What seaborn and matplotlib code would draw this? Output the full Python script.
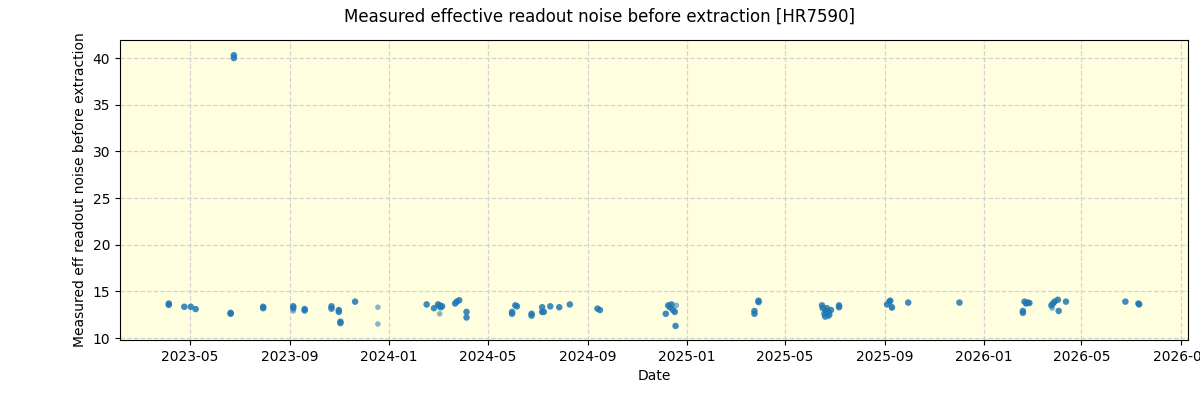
import matplotlib
matplotlib.use("Agg")
import matplotlib.pyplot as plt
import matplotlib.dates as mdates
import pandas as pd
import seaborn as sns

sns.set_style("ticks")
plt.rcParams.update({"text.color": "black", "axes.labelcolor": "black",
                     "xtick.color": "black", "ytick.color": "black"})

# observation dates and measured noise values
dates = [
    "2023-04-05", "2023-04-05", "2023-04-24", "2023-05-02", "2023-05-08",
    "2023-06-20", "2023-06-20", "2023-06-24", "2023-06-24",
    "2023-07-30", "2023-07-30", "2023-09-05", "2023-09-05", "2023-09-19", "2023-09-19",
    "2023-10-22", "2023-10-22", "2023-10-31", "2023-10-31", "2023-11-02", "2023-11-02",
    "2023-11-20",
    "2024-02-16", "2024-02-25", "2024-03-01", "2024-03-03", "2024-03-06", "2024-03-04",
    "2024-03-22", "2024-03-24", "2024-03-27", "2024-04-05", "2024-04-05",
    "2024-05-31", "2024-05-31", "2024-06-04", "2024-06-06", "2024-06-24", "2024-06-24",
    "2024-07-07", "2024-07-07", "2024-07-09", "2024-07-17", "2024-07-28", "2024-08-10",
    "2024-09-13", "2024-09-16",
    "2024-12-06", "2024-12-09", "2024-12-11", "2024-12-15", "2024-12-17", "2024-12-13",
    "2024-12-18",
    "2025-03-25", "2025-03-25", "2025-03-30", "2025-03-30",
    "2025-06-16", "2025-06-17", "2025-06-19", "2025-06-21", "2025-06-22", "2025-06-24",
    "2025-06-27", "2025-06-20", "2025-06-25", "2025-07-07", "2025-07-07",
    "2025-09-04", "2025-09-07", "2025-09-08", "2025-09-10", "2025-09-30", "2025-12-02",
    "2026-02-18", "2026-02-18", "2026-02-20", "2026-02-22", "2026-02-24", "2026-02-26",
    "2026-03-25", "2026-03-27", "2026-03-29", "2026-04-02", "2026-04-03", "2026-04-12",
    "2026-06-24", "2026-07-10", "2026-07-11",
]
noise = [
    13.7, 13.55, 13.35, 13.35, 13.1,
    12.7, 12.6, 40.3, 40.0,
    13.35, 13.2, 13.4, 13.2, 13.1, 12.95,
    13.4, 13.15, 13.0, 12.8, 11.75, 11.6,
    13.9,
    13.6, 13.2, 13.6, 13.5, 13.4, 13.3,
    13.7, 13.9, 14.05, 12.8, 12.2,
    12.8, 12.6, 13.5, 13.4, 12.6, 12.4,
    13.3, 12.8, 12.8, 13.4, 13.3, 13.6,
    13.15, 13.0,
    12.6, 13.5, 13.3, 13.0, 12.8, 13.6,
    11.3,
    12.9, 12.6, 14.0, 13.85,
    13.5, 13.2, 12.6, 12.9, 13.2, 12.8,
    13.0, 12.3, 12.5, 13.5, 13.3,
    13.6, 13.9, 14.0, 13.3, 13.8, 13.8,
    12.9, 12.7, 13.9, 13.7, 13.8, 13.75,
    13.5, 13.7, 13.9, 14.1, 12.9, 13.9,
    13.9, 13.7, 13.6,
]

# a few fainter measurements
faint_dates = ["2023-09-05", "2023-12-18", "2023-12-18", "2024-03-03", "2024-12-19",
               "2025-06-24", "2025-09-10", "2026-03-26"]
faint_noise = [12.9, 13.3, 11.5, 12.6, 13.5, 12.3, 13.2, 13.2]

df = pd.DataFrame({"date": pd.to_datetime(dates), "noise": noise})
df_faint = pd.DataFrame({"date": pd.to_datetime(faint_dates), "noise": faint_noise})

fig, ax = plt.subplots(figsize=(12, 4), dpi=100)
fig.subplots_adjust(left=0.1, right=0.99, top=0.9, bottom=0.15)
ax.set_facecolor("lightyellow")

sns.scatterplot(data=df_faint, x="date", y="noise", ax=ax, color="#1f77b4",
                s=16, alpha=0.55, edgecolor="none", zorder=3)
sns.scatterplot(data=df, x="date", y="noise", ax=ax, color="#1f77b4",
                s=22, alpha=0.85, edgecolor="none", zorder=3)

ax.grid(True, linestyle="--", color="lightgray", linewidth=0.9, zorder=0)
ax.set_axisbelow(True)
ax.set_ylim(9.79, 41.93)
ax.set_xlim(pd.Timestamp("2023-02-04"), pd.Timestamp("2026-09-09"))
ax.set_yticks([10, 15, 20, 25, 30, 35, 40])
ax.xaxis.set_major_locator(mdates.MonthLocator(bymonth=[1, 5, 9]))
ax.xaxis.set_major_formatter(mdates.DateFormatter("%Y-%m"))
for s in ax.spines.values():
    s.set_visible(True)
    s.set_color("black")

ax.set_xlabel("Date")
ax.set_ylabel("Measured eff readout noise before extraction")
fig.suptitle("Measured effective readout noise before extraction [HR7590]", fontsize=12)

fig.savefig("out.png", dpi=100)
